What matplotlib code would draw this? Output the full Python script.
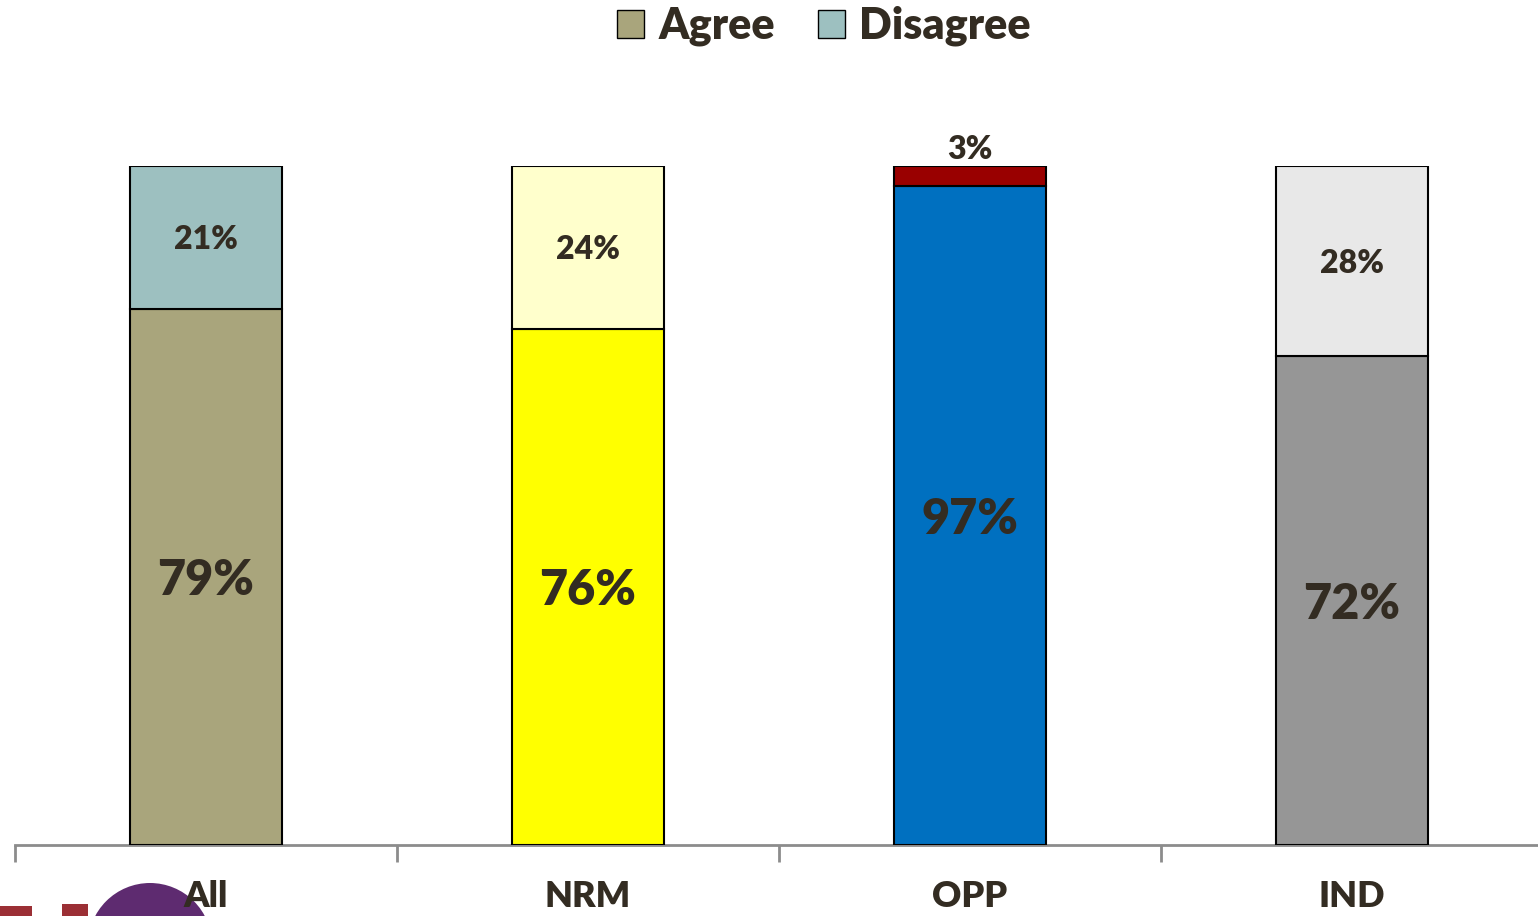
import matplotlib
matplotlib.use('Agg')
import matplotlib.pyplot as plt
from matplotlib.patches import Patch, Ellipse, Rectangle
import numpy as np

plt.rcParams['font.family'] = ['Lato', 'DejaVu Sans']
plt.rcParams['font.weight'] = 'heavy'

TEXT = '#332C22'
W = 'heavy'

# ───────────── DATA ─────────────
categories = ['All', 'NRM', 'OPP', 'IND']
agree = [79, 76, 97, 72]
disagree = [21, 24, 3, 28]
agree_colors = ['#A9A57C', '#FFFF00', '#0070C0', '#969696']
disagree_colors = ['#9DC0C0', '#FFFFCC', '#990000', '#E8E8E8']

fig = plt.figure(figsize=(15.38, 9.16), dpi=100)
# axes spans one category width per bar, right end runs off the figure
ax = fig.add_axes([15 / 1538, 1 - 845 / 916, 1528 / 1538, 679 / 916])
ax.patch.set_alpha(0)

x = np.arange(len(categories))
ax.bar(x, agree, width=0.4, color=agree_colors, edgecolor='black', linewidth=1.5, zorder=3)
ax.bar(x, disagree, bottom=agree, width=0.4, color=disagree_colors,
       edgecolor='black', linewidth=1.5, zorder=3)

for i in range(len(categories)):
    ax.text(x[i], agree[i] / 2, f'{agree[i]}%', ha='center', va='center_baseline',
            fontsize=35, fontweight=W, color=TEXT, zorder=4)
    if disagree[i] >= 10:
        ax.text(x[i], agree[i] + disagree[i] / 2, f'{disagree[i]}%', ha='center',
                va='center_baseline', fontsize=23, fontweight=W, color=TEXT, zorder=4)
    else:
        ax.text(x[i], 100 + 0.3, f'{disagree[i]}%', ha='center', va='bottom',
                fontsize=23, fontweight=W, color=TEXT, zorder=4)

ax.set_xlim(-0.5, len(categories) - 0.5)
ax.set_ylim(0, 100)
ax.set_yticks([])
ax.set_xticks(np.arange(len(categories) + 1) - 0.5, minor=True)
ax.set_xticks(x)
ax.set_xticklabels(categories, fontsize=26, fontweight=W, color=TEXT)
ax.tick_params(axis='x', which='major', length=0, pad=25)
ax.tick_params(axis='x', which='minor', length=12, width=2, color='#8C8C8C')
for s in ['top', 'right', 'left']:
    ax.spines[s].set_visible(False)
ax.spines['bottom'].set_color('#8C8C8C')
ax.spines['bottom'].set_linewidth(2)

handles = [Patch(facecolor=agree_colors[0], edgecolor='black', label='Agree'),
           Patch(facecolor=disagree_colors[0], edgecolor='black', label='Disagree')]
fig.legend(handles=handles, loc='center', bbox_to_anchor=(824 / 1538, 1 - 26 / 916), ncol=2,
           frameon=False, prop={'weight': W, 'size': 31},
           handlelength=0.62, handleheight=0.62, handletextpad=0.33, columnspacing=1.0,
           labelcolor=TEXT)

# logo fragment in bottom-left corner (behind the axes)
fig.patches.append(Ellipse((150 / 1538, 1 - 945 / 916), 124 / 1538, 124 / 916,
                           transform=fig.transFigure, facecolor='#5E2B70',
                           edgecolor='none', zorder=-1))
fig.patches.append(Rectangle((0, 0), 32 / 1538, 10 / 916, transform=fig.transFigure,
                             facecolor='#9B2F35', edgecolor='none', zorder=-1))
fig.patches.append(Rectangle((62 / 1538, 0), 26 / 1538, 12 / 916, transform=fig.transFigure,
                             facecolor='#9B2F35', edgecolor='none', zorder=-1))

fig.savefig('out.png', dpi=100)
